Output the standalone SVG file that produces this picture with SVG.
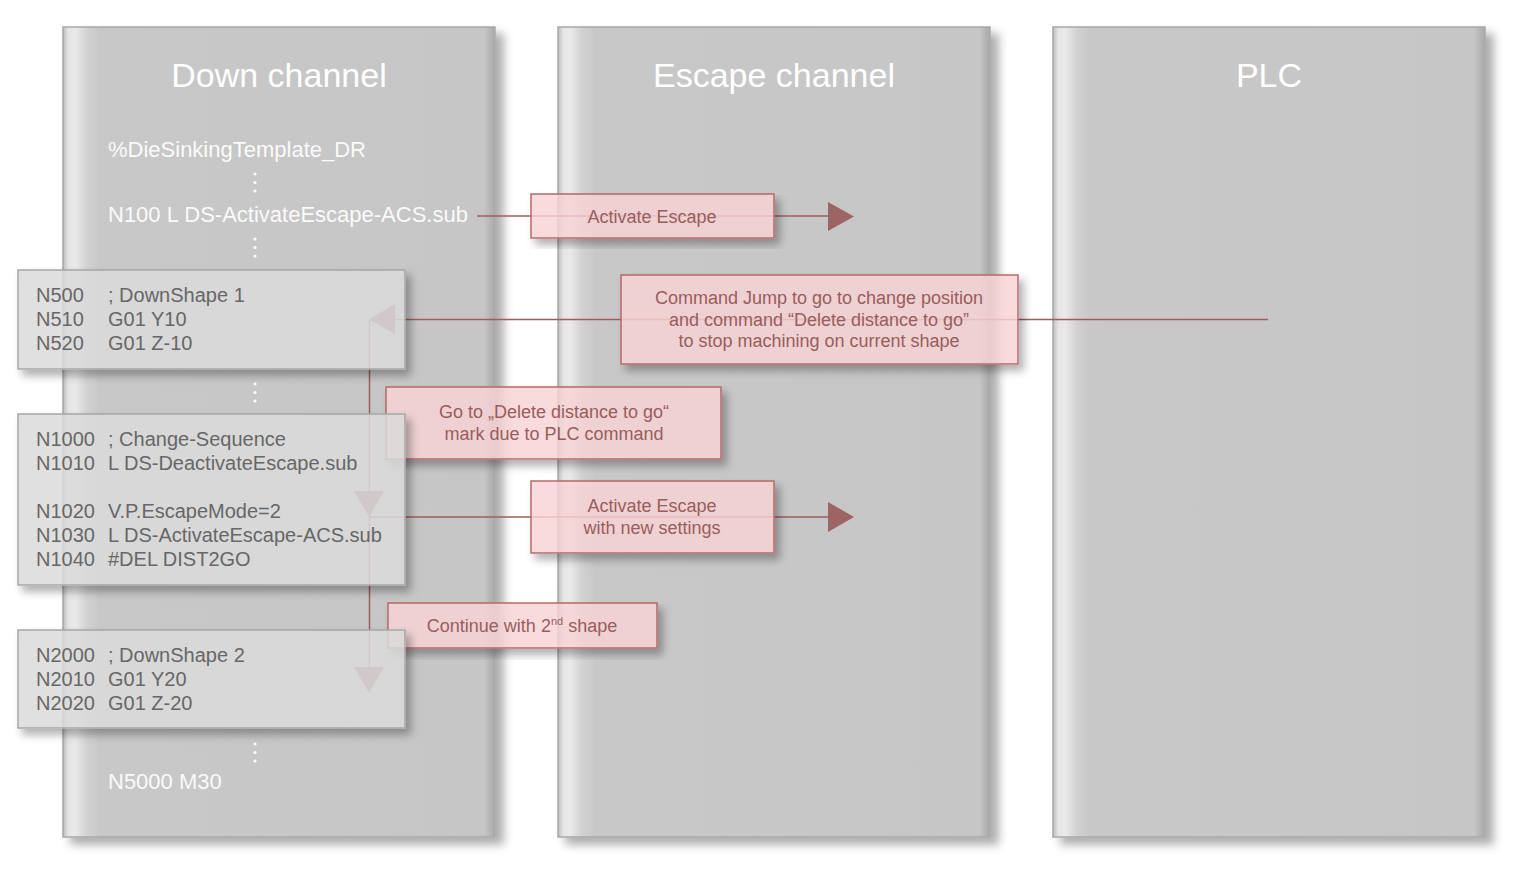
<svg xmlns="http://www.w3.org/2000/svg" width="1521" height="873" viewBox="0 0 1521 873">
<defs>
<linearGradient id="colg" x1="0" y1="0" x2="1" y2="0">
<stop offset="0" stop-color="#bdbdbd"/>
<stop offset="0.012" stop-color="#e4e4e4"/>
<stop offset="0.028" stop-color="#eaeaea"/>
<stop offset="0.055" stop-color="#d2d2d2"/>
<stop offset="0.085" stop-color="#c8c8c8"/>
<stop offset="0.975" stop-color="#c6c6c6"/>
<stop offset="0.99" stop-color="#b4b4b4"/>
<stop offset="1" stop-color="#a9a9a9"/>
</linearGradient>
<filter id="colsh" x="-5%" y="-5%" width="115%" height="110%">
<feGaussianBlur in="SourceAlpha" stdDeviation="5"/>
<feOffset dx="8" dy="7" result="o"/>
<feFlood flood-color="#000" flood-opacity="0.32"/>
<feComposite in2="o" operator="in" result="s"/>
<feMerge><feMergeNode in="s"/><feMergeNode in="SourceGraphic"/></feMerge>
</filter>
<filter id="boxsh" x="-5%" y="-10%" width="115%" height="135%">
<feComponentTransfer in="SourceAlpha" result="a"><feFuncA type="linear" slope="20"/></feComponentTransfer>
<feGaussianBlur in="a" stdDeviation="4" result="b"/>
<feOffset in="b" dx="5" dy="6" result="o"/>
<feComposite in="o" in2="a" operator="out" result="s"/>
<feFlood flood-color="#000" flood-opacity="0.3"/>
<feComposite in2="s" operator="in" result="sc"/>
<feMerge><feMergeNode in="sc"/><feMergeNode in="SourceGraphic"/></feMerge>
</filter>
</defs>
<style>
text{font-family:"Liberation Sans",Arial,Helvetica,sans-serif}
.col{fill:url(#colg);stroke:#a8a8a8;stroke-width:1.5}
.title{font-size:34px;fill:#ffffff;text-anchor:middle}
.wt{font-size:22px;fill:#fafafa}
.dot{fill:#ffffff}
.gbox{fill:#dbdbdb;fill-opacity:0.85;stroke:#a6a6a6;stroke-width:1.5}
.code{font-size:20px;fill:#676767}
.pbox{fill:#f8d3d6;fill-opacity:0.82;stroke:#b46a6a;stroke-width:1.5}
.pt{font-size:18px;fill:#995d5d;text-anchor:middle}
.ln{stroke:#a05d5d;stroke-width:1.5;fill:none}
.ah{fill:#9d6464}
</style>
<rect width="1521" height="873" fill="#ffffff"/>
<g id="down-channel">
<rect class="col" x="63" y="27" width="432" height="810" filter="url(#colsh)"/>
<text class="title" x="279" y="87">Down channel</text>
<text class="wt" x="108" y="157">%DieSinkingTemplate_DR</text>
<circle class="dot" cx="255" cy="174" r="1.6"/><circle class="dot" cx="255" cy="182.5" r="1.6"/><circle class="dot" cx="255" cy="191" r="1.6"/>
<text class="wt" x="108" y="222">N100 L DS-ActivateEscape-ACS.sub</text>
<circle class="dot" cx="255" cy="239" r="1.6"/><circle class="dot" cx="255" cy="247.5" r="1.6"/><circle class="dot" cx="255" cy="256" r="1.6"/>
<circle class="dot" cx="255" cy="384" r="1.6"/><circle class="dot" cx="255" cy="392.5" r="1.6"/><circle class="dot" cx="255" cy="401" r="1.6"/>
<circle class="dot" cx="255" cy="744" r="1.6"/><circle class="dot" cx="255" cy="752.5" r="1.6"/><circle class="dot" cx="255" cy="761" r="1.6"/>
<text class="wt" x="108" y="789">N5000 M30</text>
</g>
<g id="escape-channel">
<rect class="col" x="558" y="27" width="432" height="810" filter="url(#colsh)"/>
<text class="title" x="774" y="87">Escape channel</text>
</g>
<g id="plc">
<rect class="col" x="1053" y="27" width="432" height="810" filter="url(#colsh)"/>
<text class="title" x="1269" y="87">PLC</text>
</g>
<g id="connectors">
<path class="ln" d="M477 216 H829"/>
<polygon class="ah" points="828,202 854,216.5 828,231"/>
<path class="ln" d="M394 319.5 H1268"/>
<polygon class="ah" points="369,319.5 395,304 395,334"/>
<path class="ln" d="M369.5 320 V668"/>
<polygon class="ah" points="354,491 384,491 369,517"/>
<path class="ln" d="M369 517 H829"/>
<polygon class="ah" points="828,502 854,517 828,532"/>
<polygon class="ah" points="354,667 384,667 369,693"/>
</g>
<g id="msg-activate-escape">
<rect class="pbox" x="531" y="194" width="243" height="44" filter="url(#boxsh)"/>
<text class="pt" x="652" y="223">Activate Escape</text>
</g>
<g id="msg-command-jump">
<rect class="pbox" x="621" y="275" width="397" height="89" filter="url(#boxsh)"/>
<text class="pt" x="819" y="304">Command Jump to go to change position</text>
<text class="pt" x="819" y="326">and command “Delete distance to go”</text>
<text class="pt" x="819" y="347">to stop machining on current shape</text>
</g>
<g id="msg-goto-delete">
<rect class="pbox" x="386" y="387" width="335" height="72" filter="url(#boxsh)"/>
<text class="pt" x="554" y="418">Go to „Delete distance to go“</text>
<text class="pt" x="554" y="440">mark due to PLC command</text>
</g>
<g id="msg-activate-new">
<rect class="pbox" x="531" y="481" width="243" height="72" filter="url(#boxsh)"/>
<text class="pt" x="652" y="512">Activate Escape</text>
<text class="pt" x="652" y="534">with new settings</text>
</g>
<g id="msg-continue">
<rect class="pbox" x="388" y="603" width="269" height="45" filter="url(#boxsh)"/>
<text class="pt" x="522" y="632">Continue with 2<tspan font-size="11" dy="-7">nd</tspan><tspan dy="7"> shape</tspan></text>
</g>
<g id="block-downshape1">
<rect class="gbox" x="18" y="270" width="387" height="99" filter="url(#boxsh)"/>
<text class="code" x="36" y="302">N500</text><text class="code" x="108" y="302">; DownShape 1</text>
<text class="code" x="36" y="326">N510</text><text class="code" x="108" y="326">G01 Y10</text>
<text class="code" x="36" y="350">N520</text><text class="code" x="108" y="350">G01 Z-10</text>
</g>
<g id="block-change-sequence">
<rect class="gbox" x="18" y="414" width="387" height="171" filter="url(#boxsh)"/>
<text class="code" x="36" y="446">N1000</text><text class="code" x="108" y="446">; Change-Sequence</text>
<text class="code" x="36" y="470">N1010</text><text class="code" x="108" y="470">L DS-DeactivateEscape.sub</text>
<text class="code" x="36" y="518">N1020</text><text class="code" x="108" y="518">V.P.EscapeMode=2</text>
<text class="code" x="36" y="542">N1030</text><text class="code" x="108" y="542">L DS-ActivateEscape-ACS.sub</text>
<text class="code" x="36" y="566">N1040</text><text class="code" x="108" y="566">#DEL DIST2GO</text>
</g>
<g id="block-downshape2">
<rect class="gbox" x="18" y="630" width="387" height="98" filter="url(#boxsh)"/>
<text class="code" x="36" y="662">N2000</text><text class="code" x="108" y="662">; DownShape 2</text>
<text class="code" x="36" y="686">N2010</text><text class="code" x="108" y="686">G01 Y20</text>
<text class="code" x="36" y="710">N2020</text><text class="code" x="108" y="710">G01 Z-20</text>
</g>
</svg>
